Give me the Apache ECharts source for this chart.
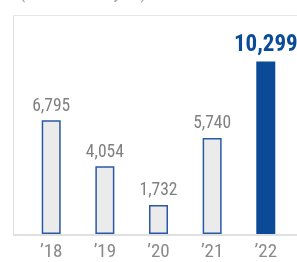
<!DOCTYPE html>
<html>
<head>
<meta charset="utf-8">
<script src="https://cdn.jsdelivr.net/npm/echarts@6/dist/echarts.min.js"></script>
<style>
html,body{margin:0;padding:0;background:#fff;}
#main{width:297px;height:262px;}
</style>
</head>
<body>
<div id="main"></div>
<script>
var years = ['’18', '’19', '’20', '’21', '’22'];
var values = [6795, 4054, 1732, 5740, 10299];
var unitText = '(Millions of yen)';

var FONT = "'Roboto Condensed','Liberation Sans Narrow','DejaVu Sans Condensed',sans-serif";
var last = values.length - 1;

var myChart = echarts.init(document.getElementById('main'));

var barData = values.map(function (v, i) {
	if (i == last) {
		return {
			value: v,
			itemStyle: { color: '#0b4a97', borderColor: '#0b4a97', borderWidth: 0 },
			label: { color: '#0b4a97', fontSize: 23, fontWeight: 'bold', distance: 5 }
		};
	}
	return v;
});

var option = {
	animation: false,
	title: {
		text: unitText,
		left: 14,
		top: -22,
		textStyle: { color: '#aaa', fontSize: 20, fontWeight: 'normal', fontFamily: FONT }
	},
	grid: { left: 24.4, right: 4.4, top: 15, bottom: 27.5 },
	xAxis: {
		type: 'category',
		data: years,
		axisLine: { show: false },
		axisTick: { show: false },
		axisLabel: { color: '#8a8a8a', fontSize: 19, fontFamily: FONT, margin: 9 }
	},
	yAxis: {
		type: 'value',
		min: 0,
		max: 13083,
		show: false,
		splitLine: { show: false }
	},
	graphic: [
		{ type: 'line', shape: { x1: 13.5, y1: 15, x2: 13.5, y2: 235 }, style: { stroke: '#e0e0e0', lineWidth: 1 } },
		{ type: 'line', shape: { x1: 13, y1: 15.5, x2: 297, y2: 15.5 }, style: { stroke: '#e6e6e6', lineWidth: 1 } },
		{ type: 'line', shape: { x1: 13, y1: 235, x2: 297, y2: 235 }, style: { stroke: '#d6d6d6', lineWidth: 1.5 } }
	],
	series: [{
		type: 'bar',
		data: barData,
		barWidth: 19,
		itemStyle: { color: '#ebebeb', borderColor: '#2a5aa6', borderWidth: 1.5 },
		label: {
			show: true,
			position: 'top',
			distance: 5,
			color: '#808080',
			fontSize: 17.5,
			fontFamily: FONT,
			formatter: function (p) { return p.value.toLocaleString('en-US'); }
		}
	}]
};

myChart.setOption(option);
</script>
</body>
</html>
